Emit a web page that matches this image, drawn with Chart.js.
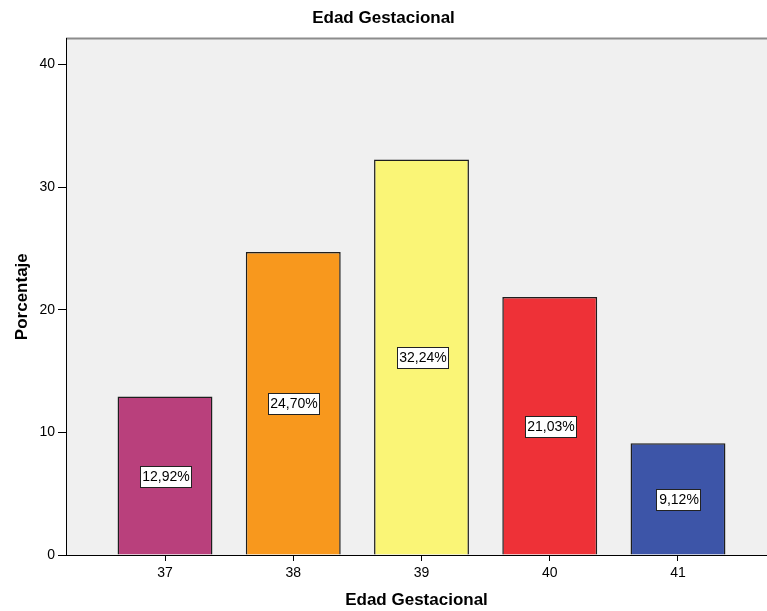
<!DOCTYPE html>
<html>
<head>
<meta charset="utf-8">
<script src="https://cdn.jsdelivr.net/npm/chart.js@4"></script>
<style>
  html, body { margin: 0; padding: 0; background: #fff; }
  #wrap { width: 767px; height: 611px; }
</style>
</head>
<body>
<div id="wrap"><canvas id="chart" width="767" height="611"></canvas></div>
<script>
// --- DATA ---
const semanas = [37, 38, 39, 40, 41];
const porcentajes = [12.92, 24.70, 32.24, 21.03, 9.12];
const colores = ['#b9407c', '#f8981d', '#faf576', '#ee3137', '#3d55a8'];
const yTicks = [0, 10, 20, 30, 40];

const FONT = '"Liberation Sans", Arial, sans-serif';
Chart.defaults.font.family = FONT;
Chart.defaults.color = '#000';

// plot background + top border
const plotBg = {
    id: 'plotBg',
    beforeDraw(chart) {
        const { ctx, chartArea: a } = chart;
        ctx.save();
        ctx.fillStyle = '#f0f0f0';
        ctx.fillRect(a.left, a.top, a.right - a.left, a.bottom - a.top);
        ctx.strokeStyle = '#8c8c8c';
        ctx.lineWidth = 2;
        ctx.beginPath();
        ctx.moveTo(a.left, a.top);
        ctx.lineTo(a.right, a.top);
        ctx.stroke();
        ctx.restore();
    }
};

// boxed value labels in the middle of each bar
const boxLabels = {
    id: 'boxLabels',
    afterDatasetsDraw(chart) {
        const { ctx } = chart;
        const meta = chart.getDatasetMeta(0);
        ctx.save();
        ctx.font = '14px ' + FONT;
        ctx.textAlign = 'center';
        ctx.textBaseline = 'middle';
        meta.data.forEach((bar, i) => {
            const txt = porcentajes[i].toFixed(2).replace('.', ',') + '%';
            const w = Math.round(ctx.measureText(txt).width + 4);
            const h = 21;
            const cx = Math.round(bar.x);
            const cy = Math.round((bar.y + bar.base) / 2);
            const x0 = Math.round(cx - w / 2);
            const y0 = Math.round(cy - h / 2);
            ctx.fillStyle = '#fff';
            ctx.fillRect(x0, y0, w, h);
            ctx.strokeStyle = '#222';
            ctx.lineWidth = 1;
            ctx.strokeRect(x0 + 0.5, y0 + 0.5, w, h);
            ctx.fillStyle = '#000';
            ctx.fillText(txt, cx + 1, cy + 1);
        });
        ctx.restore();
    }
};

new Chart(document.getElementById('chart'), {
    type: 'bar',
    data: {
        datasets: [{
            label: 'Porcentaje',
            data: semanas.map((s, i) => ({ x: s, y: porcentajes[i] })),
            backgroundColor: colores,
            borderColor: '#1e1e1e',
            borderWidth: 1.5,
            barPercentage: 0.74,
            categoryPercentage: 1.0
        }]
    },
    options: {
        responsive: false,
        animation: false,
        layout: { padding: 0 },
        plugins: {
            legend: { display: false },
            tooltip: { enabled: false },
            title: {
                display: true,
                text: 'Edad Gestacional',
                font: { size: 17, weight: 'bold' },
                padding: { top: 8, bottom: 10 }
            }
        },
        scales: {
            x: {
                type: 'linear',
                offset: false,
                min: 36.228,
                max: 41.694,
                afterBuildTicks: s => { s.ticks = semanas.map(v => ({ value: v })); },
                afterFit: s => { s.height = 56; },
                ticks: { font: { size: 14 }, padding: 4, callback: v => String(v) },
                grid: { display: true, offset: false, drawOnChartArea: false, tickLength: 6, tickColor: '#000', tickWidth: 1 },
                border: { display: true, color: '#000', width: 1 },
                title: {
                    display: true,
                    text: 'Edad Gestacional',
                    font: { size: 17, weight: 'bold' },
                    padding: 0
                }
            },
            y: {
                min: 0,
                max: 42.12,
                afterBuildTicks: s => { s.ticks = yTicks.map(v => ({ value: v })); },
                afterFit: s => { s.width = 66; },
                ticks: { font: { size: 14 }, padding: 3 },
                grid: { display: true, drawOnChartArea: false, tickLength: 8, tickColor: '#000', tickWidth: 1 },
                border: { display: true, color: '#000', width: 1 },
                title: {
                    display: true,
                    text: 'Porcentaje',
                    font: { size: 17, weight: 'bold' },
                    padding: { top: 12, bottom: 0 }
                }
            }
        }
    },
    plugins: [plotBg, boxLabels]
});
</script>
</body>
</html>
